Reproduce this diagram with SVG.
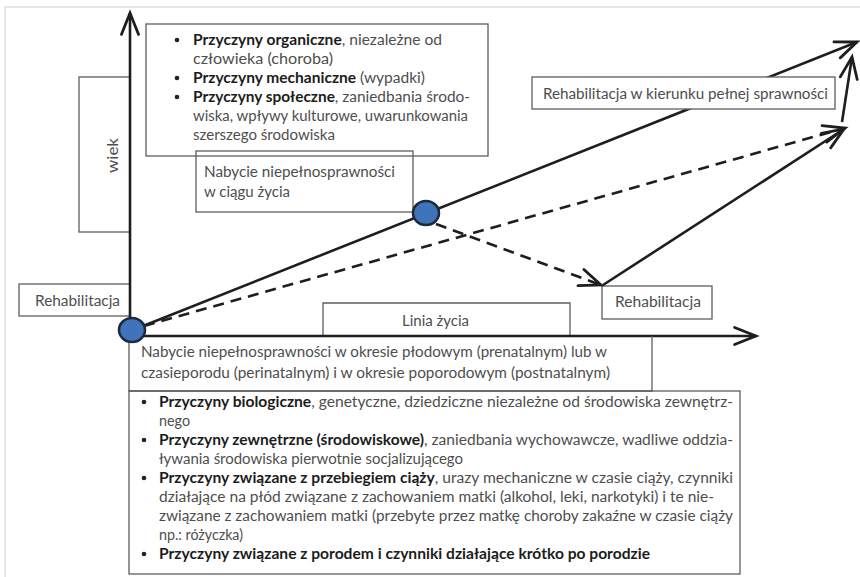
<svg xmlns="http://www.w3.org/2000/svg" width="860" height="577" viewBox="0 0 860 577">
<defs>
<style>
.t{font-family:Lato,"Liberation Sans",sans-serif;font-size:15.5px;fill:#4e4e4e}
.b{font-weight:bold;fill:#1c1c1c}
.box{fill:#fff;stroke:#5e5e5e;stroke-width:1.3}
.boxn{fill:none;stroke:#5e5e5e;stroke-width:1.3}
.ax{stroke:#1e1e1e;stroke-width:2.6;fill:none}
.dash{stroke:#1e1e1e;stroke-width:2.6;fill:none;stroke-dasharray:11 7}
.dot{fill:#3f74ba;stroke:#1c2a3c;stroke-width:2.5}
.bul{fill:#222}
</style>
<marker id="arr" markerUnits="userSpaceOnUse" markerWidth="30" markerHeight="30" viewBox="-24 -12 28 24" refX="0" refY="0" orient="auto">
<path d="M-20,-8 L0,0 L-20,8" fill="none" stroke="#1e1e1e" stroke-width="2.6" stroke-linecap="round" stroke-linejoin="miter"/>
</marker>
</defs>
<rect width="860" height="577" fill="#fff"/>
<path d="M5,577 L5,7 L860,7" fill="none" stroke="#d0d0d0" stroke-width="1"/>

<g id="wiek">
<rect class="boxn" x="79" y="77" width="51" height="155"/>
<text class="t" transform="translate(118,173) rotate(-90)" textLength="35" lengthAdjust="spacingAndGlyphs">wiek</text>
</g>
<g id="rehab-left">
<rect class="boxn" x="19" y="284" width="111" height="32"/>
<text class="t" x="35" y="306" textLength="85" lengthAdjust="spacingAndGlyphs">Rehabilitacja</text>
</g>
<g id="linia">
<path class="boxn" d="M323,336 L323,303 L570,303 L570,336"/>
<text class="t" x="402" y="326" textLength="67" lengthAdjust="spacingAndGlyphs">Linia życia</text>
</g>
<g id="rehab-right">
<rect class="boxn" x="602" y="286" width="110" height="33"/>
<text class="t" x="615" y="307" textLength="86" lengthAdjust="spacingAndGlyphs">Rehabilitacja</text>
</g>

<g id="connectors">
<line class="ax" x1="130" y1="336" x2="130" y2="13" marker-end="url(#arr)"/>
<line class="ax" x1="130" y1="336" x2="756" y2="336" marker-end="url(#arr)"/>
<line class="ax" x1="133" y1="330" x2="857" y2="42" marker-end="url(#arr)"/>
<line class="dash" x1="144" y1="326" x2="845" y2="128" marker-end="url(#arr)"/>
<line class="dash" x1="436" y1="224" x2="601" y2="285" marker-end="url(#arr)"/>
<line class="ax" x1="603" y1="285" x2="844" y2="129" marker-end="url(#arr)"/>
<line class="ax" x1="842" y1="122" x2="852" y2="57" marker-end="url(#arr)"/>
</g>

<g id="rehab-full">
<rect class="box" x="532" y="77" width="303" height="32"/>
<text class="t" x="543" y="99" textLength="285" lengthAdjust="spacingAndGlyphs">Rehabilitacja w kierunku pełnej sprawności</text>
</g>

<g id="causes-life">
<rect class="box" x="146" y="24" width="342" height="132"/>
<circle class="bul" cx="177" cy="40" r="2.3"/>
<text class="t" x="193" y="45" textLength="249" lengthAdjust="spacingAndGlyphs"><tspan class="b">Przyczyny organiczne</tspan>, niezależne od</text>
<text class="t" x="193" y="64" textLength="140" lengthAdjust="spacingAndGlyphs">człowieka (choroba)</text>
<circle class="bul" cx="177" cy="78" r="2.3"/>
<text class="t" x="193" y="83" textLength="232" lengthAdjust="spacingAndGlyphs"><tspan class="b">Przyczyny mechaniczne</tspan> (wypadki)</text>
<circle class="bul" cx="177" cy="97" r="2.3"/>
<text class="t" x="193" y="102" textLength="277" lengthAdjust="spacingAndGlyphs"><tspan class="b">Przyczyny społeczne</tspan>, zaniedbania środo-</text>
<text class="t" x="193" y="121" textLength="275" lengthAdjust="spacingAndGlyphs">wiska, wpływy kulturowe, uwarunkowania</text>
<text class="t" x="193" y="140" textLength="142" lengthAdjust="spacingAndGlyphs">szerszego środowiska</text>
</g>

<g id="acq-life">
<rect class="boxn" x="196" y="151" width="217" height="61"/>
<text class="t" x="204" y="177" textLength="191" lengthAdjust="spacingAndGlyphs">Nabycie niepełnosprawności</text>
<text class="t" x="204" y="197" textLength="86" lengthAdjust="spacingAndGlyphs">w ciągu życia</text>
</g>

<g id="acq-birth">
<path class="boxn" d="M129,336 L129,391 L652,391 L652,336"/>
<text class="t" x="141" y="357" textLength="466" lengthAdjust="spacingAndGlyphs">Nabycie niepełnosprawności w okresie płodowym (prenatalnym) lub w</text>
<text class="t" x="141" y="378" textLength="469" lengthAdjust="spacingAndGlyphs">czasieporodu (perinatalnym) i w okresie poporodowym (postnatalnym)</text>
</g>

<g id="causes-birth">
<rect class="boxn" x="129" y="391" width="611" height="183"/>
<circle class="bul" cx="144" cy="402" r="2.3"/>
<text class="t" x="159" y="407" textLength="574" lengthAdjust="spacingAndGlyphs"><tspan class="b">Przyczyny biologiczne</tspan>, genetyczne, dziedziczne niezależne od środowiska zewnętrz-</text>
<text class="t" x="159" y="426" textLength="31" lengthAdjust="spacingAndGlyphs">nego</text>
<circle class="bul" cx="144" cy="440" r="2.3"/>
<text class="t" x="159" y="445" textLength="574" lengthAdjust="spacingAndGlyphs"><tspan class="b">Przyczyny zewnętrzne (środowiskowe)</tspan>, zaniedbania wychowawcze, wadliwe oddzia-</text>
<text class="t" x="159" y="464" textLength="304" lengthAdjust="spacingAndGlyphs">ływania środowiska pierwotnie socjalizującego</text>
<circle class="bul" cx="144" cy="478" r="2.3"/>
<text class="t" x="159" y="483" textLength="574" lengthAdjust="spacingAndGlyphs"><tspan class="b">Przyczyny związane z przebiegiem ciąży</tspan>, urazy mechaniczne w czasie ciąży, czynniki</text>
<text class="t" x="159" y="502" textLength="555" lengthAdjust="spacingAndGlyphs">działające na płód związane z zachowaniem matki (alkohol, leki, narkotyki) i te nie-</text>
<text class="t" x="159" y="521" textLength="574" lengthAdjust="spacingAndGlyphs">związane z zachowaniem matki (przebyte przez matkę choroby zakaźne w czasie ciąży</text>
<text class="t" x="159" y="540" textLength="84" lengthAdjust="spacingAndGlyphs">np.: różyczka)</text>
<circle class="bul" cx="144" cy="554" r="2.3"/>
<text class="t b" x="159" y="559" textLength="491" lengthAdjust="spacingAndGlyphs">Przyczyny związane z porodem i czynniki działające krótko po porodzie</text>
</g>

<g id="node-birth">
<ellipse class="dot" cx="132" cy="330" rx="13" ry="12"/>
</g>
<g id="node-life">
<ellipse class="dot" cx="426" cy="213" rx="13" ry="12"/>
</g>
</svg>
